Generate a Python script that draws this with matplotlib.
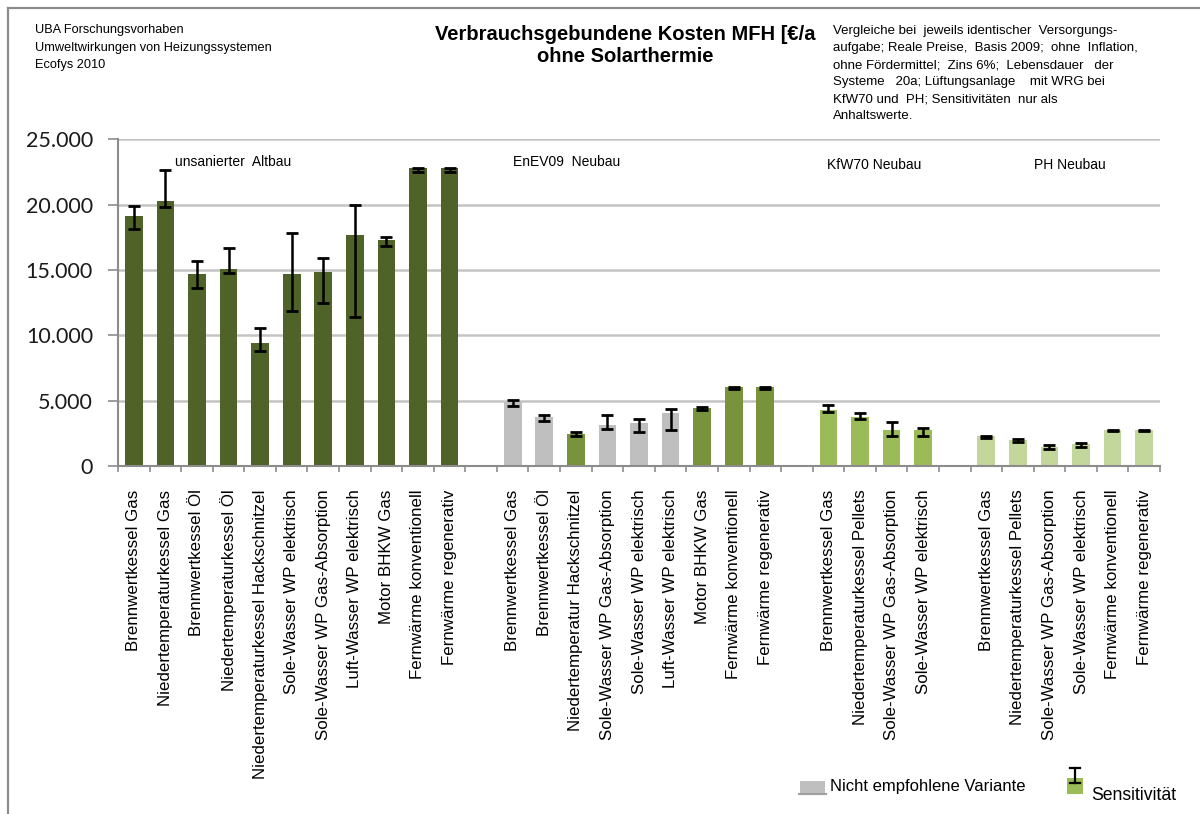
import matplotlib
matplotlib.use("Agg")
import matplotlib.pyplot as plt
from matplotlib.patches import Rectangle
from matplotlib.lines import Line2D
import numpy as np
from matplotlib.ticker import FuncFormatter, FixedLocator

# ---------------- data ----------------
group_names = ["unsanierter  Altbau", "EnEV09  Neubau", "KfW70 Neubau", "PH Neubau"]

labels_altbau = ["Brennwertkessel Gas", "Niedertemperaturkessel Gas", "Brennwertkessel Öl",
                 "Niedertemperaturkessel Öl", "Niedertemperaturkessel Hackschnitzel",
                 "Sole-Wasser WP elektrisch", "Sole-Wasser WP Gas-Absorption",
                 "Luft-Wasser WP elektrisch", "Motor BHKW Gas", "Fernwärme konventionell",
                 "Fernwärme regenerativ"]
values_altbau = [19100, 20270, 14660, 15050, 9440, 14660, 14820, 17660, 17270, 22800, 22800]
low_altbau = [18100, 19850, 13600, 14780, 8820, 11870, 12450, 11430, 16830, 22480, 22480]
high_altbau = [19860, 22620, 15660, 16660, 10570, 17830, 15940, 20010, 17560, 22830, 22830]
rec_altbau = [True] * 11

labels_enev = ["Brennwertkessel Gas", "Brennwertkessel Öl", "Niedertemperatur Hackschnitzel",
               "Sole-Wasser WP Gas-Absorption", "Sole-Wasser WP elektrisch",
               "Luft-Wasser WP elektrisch", "Motor BHKW Gas", "Fernwärme konventionell",
               "Fernwärme regenerativ"]
values_enev = [4860, 3760, 2460, 3150, 3300, 4070, 4450, 6040, 6040]
low_enev = [4620, 3460, 2290, 2850, 2570, 2720, 4310, 5900, 5900]
high_enev = [5070, 3890, 2590, 3890, 3610, 4350, 4490, 6040, 6040]
rec_enev = [False, False, True, False, False, False, True, True, True]

labels_kfw = ["Brennwertkessel Gas", "Niedertemperaturkessel Pellets",
              "Sole-Wasser WP Gas-Absorption", "Sole-Wasser WP elektrisch"]
values_kfw = [4300, 3760, 2760, 2760]
low_kfw = [4150, 3610, 2290, 2290]
high_kfw = [4640, 4080, 3360, 2920]
rec_kfw = [True] * 4

labels_ph = ["Brennwertkessel Gas", "Niedertemperaturkessel Pellets",
             "Sole-Wasser WP Gas-Absorption", "Sole-Wasser WP elektrisch",
             "Fernwärme konventionell", "Fernwärme regenerativ"]
values_ph = [2300, 2000, 1460, 1690, 2760, 2760]
low_ph = [2120, 1840, 1300, 1450, 2690, 2690]
high_ph = [2310, 2060, 1600, 1730, 2760, 2760]
rec_ph = [True] * 6

group_colors = ["#4F6228", "#77933C", "#9BBB59", "#C3D69B"]
grey = "#BFBFBF"

groups = [
    (labels_altbau, values_altbau, low_altbau, high_altbau, rec_altbau),
    (labels_enev, values_enev, low_enev, high_enev, rec_enev),
    (labels_kfw, values_kfw, low_kfw, high_kfw, rec_kfw),
    (labels_ph, values_ph, low_ph, high_ph, rec_ph),
]

yticks = [0, 5000, 10000, 15000, 20000, 25000]

# ---------------- figure ----------------
W, H = 1200, 814
fig = plt.figure(figsize=(W / 100, H / 100), dpi=100)
fig.patch.set_facecolor("white")

def fx(px):
    return px / W

def fy(py):
    return 1 - py / H

ax = fig.add_axes([fx(118), fy(466), fx(1160) - fx(118), fy(139.3) - fy(466)])

all_labels = []
pos = 0
for gi, (labs, vals, lo, hi, rec) in enumerate(groups):
    n = len(labs)
    x = np.arange(pos, pos + n)
    vals = np.array(vals, dtype=float)
    lo = np.array(lo, dtype=float)
    hi = np.array(hi, dtype=float)
    cols = [group_colors[gi] if r else grey for r in rec]
    ax.bar(x, vals, width=0.56, color=cols, zorder=2, linewidth=0)
    err_lo = np.clip(vals - lo, 0, None)
    err_hi = np.clip(hi - vals, 0, None)
    ax.errorbar(x, vals, yerr=[err_lo, err_hi], fmt="none", ecolor="black",
                elinewidth=1.8, capsize=4.6, capthick=2.0, zorder=3)
    all_labels += list(labs)
    pos += n
    if gi < len(groups) - 1:
        all_labels.append("")
        pos += 1

ncat = pos
ax.set_xlim(-0.5, ncat - 0.5)
ax.set_ylim(0, 25000)

ax.set_xticks(np.arange(ncat))
ax.set_xticklabels(all_labels, rotation=90, ha="center", va="top",
                   fontsize=12.2, family="Liberation Sans")
ax.xaxis.set_minor_locator(FixedLocator(np.arange(-0.5, ncat, 1.0)))
ax.tick_params(axis="x", which="major", length=0, pad=17)
ax.tick_params(axis="x", which="minor", length=4, width=1.2, color="#8C8C8C", direction="out")

ax.set_yticks(yticks)
ax.yaxis.set_major_formatter(FuncFormatter(lambda v, p: f"{int(v):,}".replace(",", ".")))
ax.tick_params(axis="y", length=7, width=1.2, color="#8C8C8C", pad=11)
for t in ax.get_yticklabels():
    t.set_fontsize(15.5)
    t.set_family("Lato")
    t.set_color("#1A1A1A")

ax.grid(axis="y", color="#C4C4C4", linewidth=1.8, zorder=0)
ax.set_axisbelow(True)
for s in ["top", "right"]:
    ax.spines[s].set_visible(False)
for s in ["left", "bottom"]:
    ax.spines[s].set_color("#8C8C8C")
    ax.spines[s].set_linewidth(1.5)

# group labels
ax.text(1.3, 23230, group_names[0], fontsize=10, family="Liberation Sans", va="center", ha="left")
ax.text(12.0, 23230, group_names[1], fontsize=10, family="Liberation Sans", va="center", ha="left")
ax.text(21.95, 23020, group_names[2], fontsize=10, family="Liberation Sans", va="center", ha="left")
ax.text(28.5, 23020, group_names[3], fontsize=10, family="Liberation Sans", va="center", ha="left")

# header texts
fig.text(fx(35), fy(24), "UBA Forschungsvorhaben\nUmweltwirkungen von Heizungssystemen\nEcofys 2010",
         fontsize=9.2, family="Liberation Sans", va="top", ha="left", linespacing=1.62)
fig.text(fx(625), fy(25), "Verbrauchsgebundene Kosten MFH [€/a\nohne Solarthermie",
         fontsize=14.5, fontweight="bold", family="Liberation Sans", va="top", ha="center",
         linespacing=1.2)
fig.text(fx(833), fy(25),
         "Vergleiche bei  jeweils identischer  Versorgungs-\n"
         "aufgabe; Reale Preise,  Basis 2009;  ohne  Inflation,\n"
         "ohne Fördermittel;  Zins 6%;  Lebensdauer   der\n"
         "Systeme   20a; Lüftungsanlage    mit WRG bei\n"
         "KfW70 und  PH; Sensitivitäten  nur als\n"
         "Anhaltswerte.",
         fontsize=9.5, family="Liberation Sans", va="top", ha="left", linespacing=1.56)

# frame
fig.add_artist(Line2D([fx(8), fx(8)], [fy(8), fy(820)], color="#8C8C8C", lw=1.6))
fig.add_artist(Line2D([fx(8), fx(1205)], [fy(8), fy(8)], color="#8C8C8C", lw=1.6))

# legend
fig.add_artist(Rectangle((fx(800), fy(794)), fx(825) - fx(800), fy(781) - fy(794),
                         transform=fig.transFigure, facecolor=grey, edgecolor="none"))
fig.add_artist(Line2D([fx(799), fx(826)], [fy(794), fy(794)], color="#A0A0A0", lw=1.5))
fig.text(fx(830), fy(786), "Nicht empfohlene Variante", fontsize=12, family="Liberation Sans",
         va="center", ha="left")
fig.add_artist(Rectangle((fx(1067), fy(794)), fx(1083) - fx(1067), fy(778) - fy(794),
                         transform=fig.transFigure, facecolor="#9BBB59", edgecolor="none"))
fig.add_artist(Line2D([fx(1075), fx(1075)], [fy(768), fy(783)], color="black", lw=1.6))
fig.add_artist(Line2D([fx(1070), fx(1080)], [fy(768), fy(768)], color="black", lw=1.6))
fig.add_artist(Line2D([fx(1070), fx(1080)], [fy(783), fy(783)], color="black", lw=1.6))
fig.text(fx(1091), fy(795), "Sensitivität", fontsize=12.7, family="Liberation Sans",
         va="center", ha="left")

fig.savefig("out.png", dpi=100, facecolor="white")
